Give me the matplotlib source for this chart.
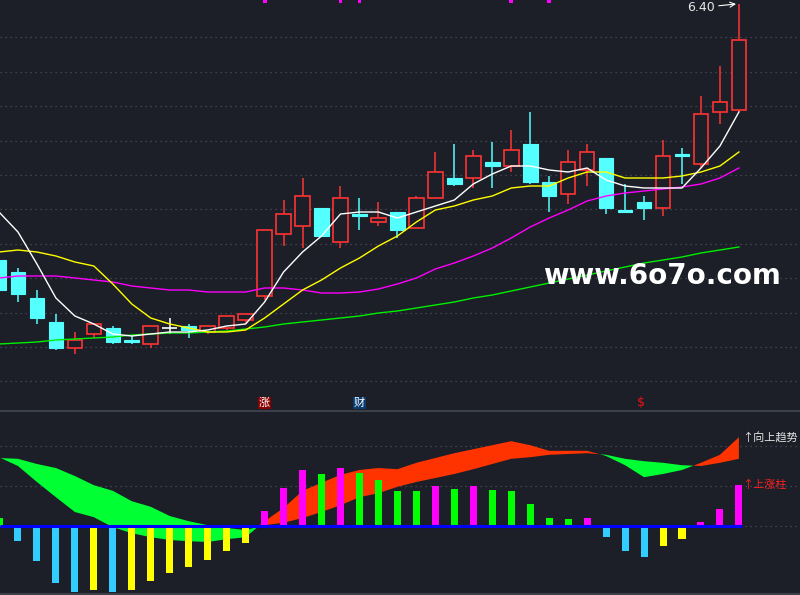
import numpy as np
import matplotlib
matplotlib.use('Agg')
import matplotlib.pyplot as plt
from matplotlib.lines import Line2D

plt.rcParams['font.family'] = ['Noto Sans CJK SC', 'DejaVu Sans']

# daily candles (price)
opens = [5.12, 5.06, 4.93, 4.81, 4.68, 4.75, 4.78, 4.72, 4.70, 4.78,
         4.79, 4.76, 4.78, 4.82, 4.94, 5.25, 5.29, 5.38, 5.21, 5.35,
         5.31, 5.36, 5.28, 5.43, 5.53, 5.53, 5.61, 5.59, 5.70, 5.51,
         5.45, 5.57, 5.63, 5.37, 5.41, 5.38, 5.65, 5.60, 5.86, 5.87]
closes = [4.97, 4.95, 4.83, 4.68, 4.72, 4.80, 4.71, 4.71, 4.79, 4.78,
          4.77, 4.79, 4.84, 4.85, 5.27, 5.35, 5.44, 5.24, 5.43, 5.34,
          5.33, 5.27, 5.43, 5.56, 5.50, 5.64, 5.59, 5.67, 5.51, 5.44,
          5.61, 5.66, 5.38, 5.36, 5.38, 5.64, 5.64, 5.85, 5.91, 6.22]
highs = [5.13, 5.08, 4.97, 4.85, 4.76, 4.80, 4.79, 4.74, 4.79, 4.83,
         4.80, 4.79, 4.84, 4.85, 5.27, 5.42, 5.53, 5.38, 5.49, 5.43,
         5.41, 5.36, 5.44, 5.66, 5.70, 5.67, 5.71, 5.77, 5.86, 5.54,
         5.67, 5.70, 5.63, 5.50, 5.44, 5.72, 5.68, 5.94, 6.09, 6.40]
lows = [4.96, 4.91, 4.80, 4.67, 4.65, 4.73, 4.70, 4.70, 4.68, 4.75,
        4.73, 4.75, 4.77, 4.80, 4.92, 5.19, 5.18, 5.24, 5.18, 5.27,
        5.29, 5.23, 5.28, 5.43, 5.49, 5.48, 5.48, 5.56, 5.50, 5.36,
        5.40, 5.49, 5.35, 5.36, 5.32, 5.34, 5.50, 5.58, 5.80, 5.86]

# moving averages
ma5 = [5.36, 5.26, 5.10, 4.93, 4.84, 4.80, 4.75, 4.74, 4.75, 4.76,
       4.76, 4.77, 4.79, 4.80, 4.91, 5.06, 5.16, 5.24, 5.35, 5.36,
       5.36, 5.33, 5.36, 5.39, 5.42, 5.50, 5.55, 5.59, 5.59, 5.57,
       5.56, 5.58, 5.52, 5.49, 5.48, 5.48, 5.48, 5.58, 5.69, 5.86]
ma10 = [5.16, 5.17, 5.16, 5.14, 5.11, 5.09, 5.00, 4.90, 4.83, 4.80,
        4.78, 4.76, 4.76, 4.77, 4.83, 4.90, 4.97, 5.02, 5.08, 5.13,
        5.19, 5.24, 5.31, 5.37, 5.39, 5.42, 5.44, 5.48, 5.49, 5.49,
        5.53, 5.56, 5.56, 5.53, 5.53, 5.53, 5.54, 5.56, 5.59, 5.66]
ma20 = [5.03, 5.04, 5.04, 5.04, 5.03, 5.02, 5.01, 4.99, 4.98, 4.97,
        4.97, 4.96, 4.96, 4.96, 4.98, 4.98, 4.97, 4.955, 4.955, 4.96,
        4.975, 5.00, 5.03, 5.075, 5.105, 5.14, 5.18, 5.23, 5.285, 5.33,
        5.37, 5.415, 5.44, 5.455, 5.465, 5.475, 5.485, 5.50, 5.53, 5.58]
ma60 = [4.70, 4.705, 4.71, 4.72, 4.725, 4.73, 4.735, 4.745, 4.75, 4.755,
        4.755, 4.76, 4.765, 4.775, 4.785, 4.80, 4.81, 4.82, 4.83, 4.84,
        4.855, 4.865, 4.88, 4.895, 4.91, 4.93, 4.945, 4.965, 4.985, 5.005,
        5.025, 5.045, 5.065, 5.085, 5.105, 5.12, 5.135, 5.155, 5.17, 5.185]

# indicator panel
fast = [1.72, 1.50, 1.10, 0.72, 0.35, 0.22, -0.03, -0.18, -0.28, -0.35,
        -0.38, -0.40, -0.33, -0.28, 0.12, 0.45, 0.88, 1.08, 1.28, 1.40,
        1.45, 1.42, 1.58, 1.70, 1.82, 1.92, 2.02, 2.12, 2.02, 1.88,
        1.88, 1.88, 1.75, 1.52, 1.22, 1.30, 1.40, 1.58, 1.78, 2.22]
slow = [1.70, 1.68, 1.55, 1.45, 1.25, 1.02, 0.88, 0.62, 0.48, 0.25,
        0.12, 0.02, -0.05, -0.10, 0.02, 0.08, 0.20, 0.35, 0.52, 0.72,
        0.82, 0.98, 1.10, 1.20, 1.30, 1.42, 1.55, 1.68, 1.72, 1.78,
        1.80, 1.82, 1.78, 1.68, 1.62, 1.58, 1.52, 1.50, 1.58, 1.68]
hist = [0.20, -0.38, -0.88, -1.42, -1.66, -1.61, -1.66, -1.61, -1.38, -1.18,
        -1.03, -0.86, -0.63, -0.43, 0.37, 0.94, 1.39, 1.29, 1.44, 1.32,
        1.15, 0.87, 0.87, 0.99, 0.92, 0.99, 0.89, 0.87, 0.54, 0.19,
        0.17, 0.19, -0.27, -0.62, -0.77, -0.50, -0.32, 0.10, 0.42, 1.02]

signal_top = [14, 18, 19, 27, 29]
mark_zhang = 14
mark_cai = 19
mark_dollar = 34
high_label = '6.40'

BG = '#1c1f27'
RED = '#ff3333'
CYAN = '#54ffff'
GRID = '#4c505a'

idx = np.arange(len(opens))
o = np.array(opens); c = np.array(closes)
h = np.array(highs); l = np.array(lows)

fig = plt.figure(figsize=(8, 5.95), dpi=100, facecolor=BG)
ax = fig.add_axes([0, 184 / 595, 1, 411 / 595])
ax2 = fig.add_axes([0, 0, 1, 184 / 595])
for a in (ax, ax2):
    a.set_facecolor(BG)
    a.set_axis_off()
    a.set_xlim(0.053, 42.22)

# ---- main panel
ax.set_ylim(4.365, 6.42)
for g in 6.233 - 0.172 * np.arange(11):
    ax.axhline(g, color=GRID, lw=0.9, ls=(0, (1, 3)), zorder=0)

up = c > o
down = c < o
flat = c == o
w = 0.77
top = np.maximum(o, c)
bot = np.minimum(o, c)

# wicks
ax.vlines(idx[up], h[up], top[up], color=RED, lw=1.1, zorder=2)
ax.vlines(idx[up], bot[up], l[up], color=RED, lw=1.1, zorder=2)
ax.vlines(idx[down], l[down], h[down], color=CYAN, lw=1.1, zorder=2)
ax.vlines(idx[flat], l[flat], h[flat], color='white', lw=1.1, zorder=2)

ax.bar(idx[up], (c - o)[up], bottom=o[up], width=w, facecolor=BG,
       edgecolor=RED, lw=1.2, zorder=3)
ax.bar(idx[down], (o - c)[down], bottom=c[down], width=w, facecolor=CYAN,
       edgecolor=CYAN, lw=0.8, zorder=3)
ax.hlines(c[flat], idx[flat] - w / 2, idx[flat] + w / 2, color='white', lw=1.2, zorder=3)

ax.plot(idx, ma60, color='#00ee00', lw=1.0, zorder=4)
ax.plot(idx, ma20, color='#ff00ff', lw=1.0, zorder=4)
ax.plot(idx, ma10, color='#ffff00', lw=1.0, zorder=4)
ax.plot(idx, ma5, color='white', lw=1.0, zorder=4)

ax.bar(signal_top, 0.02, bottom=6.405, width=0.2, color='#ff00ff', zorder=5)

ax.annotate(high_label, xy=(38.85, highs[-1]), xytext=(37.72, 6.382),
            color='#e8e8e8', fontsize=9, ha='right', va='center',
            family=['DejaVu Sans'],
            arrowprops=dict(arrowstyle='->', color='white', lw=0.8,
                            shrinkA=1, shrinkB=0))

ax.text(mark_zhang, 4.405, '涨', color='white', fontsize=8, ha='center', va='center',
        bbox=dict(boxstyle='square,pad=0.05', fc='#8b0000', ec='none'))
ax.text(mark_cai, 4.405, '财', color='white', fontsize=8, ha='center', va='center',
        bbox=dict(boxstyle='square,pad=0.05', fc='#0b3c70', ec='none'))
ax.text(mark_dollar - 0.15, 4.405, r'\$', color='#ee1111', fontsize=9,
        ha='center', va='center', family=['DejaVu Sans'])

# ---- indicator panel
ax2.set_ylim(-1.725, 2.875)
for g in (0, 1, 2):
    ax2.axhline(g, color=GRID, lw=0.9, ls=(0, (1, 3)), zorder=0)

fa = np.array(fast); sl = np.array(slow)
ax2.fill_between(idx, fa, sl, where=fa >= sl, interpolate=True,
                 color='#ff3300', lw=0, zorder=1)
ax2.fill_between(idx, fa, sl, where=fa < sl, interpolate=True,
                 color='#00ff33', lw=0, zorder=1)

hv = np.array(hist)
prev = np.r_[hv[0], hv[:-1]]
cols = []
for v, p in zip(hv, prev):
    if v >= 0:
        cols.append('#ff00ff' if v > p else '#00ff00')
    else:
        cols.append('#ffff00' if v > p else '#33ccff')
ax2.bar(idx, hv, width=0.37, color=cols, zorder=2)
ax2.hlines(0, 0.053, idx[-1] + 0.15, color='#0000ff', lw=2.2, zorder=3)

ax2.text(39.15, 2.21, '↑向上趋势', color='#e6e6e6', fontsize=8, va='center', ha='left')
ax2.text(39.15, 1.02, '↑上涨柱', color='#ff2020', fontsize=8, va='center', ha='left')

fig.add_artist(Line2D([0, 1], [1 - 411 / 595, 1 - 411 / 595], color='#3b3f4a', lw=1.5))
fig.add_artist(Line2D([0, 1], [1 / 595, 1 / 595], color='#3b3f4a', lw=1.5))

fig.text(662 / 800, 1 - 276 / 595, 'www.6o7o.com', color='white', fontsize=20,
         fontweight='bold', ha='center', va='center', family=['DejaVu Sans'])

fig.savefig('out.png', dpi=100, facecolor=BG)
